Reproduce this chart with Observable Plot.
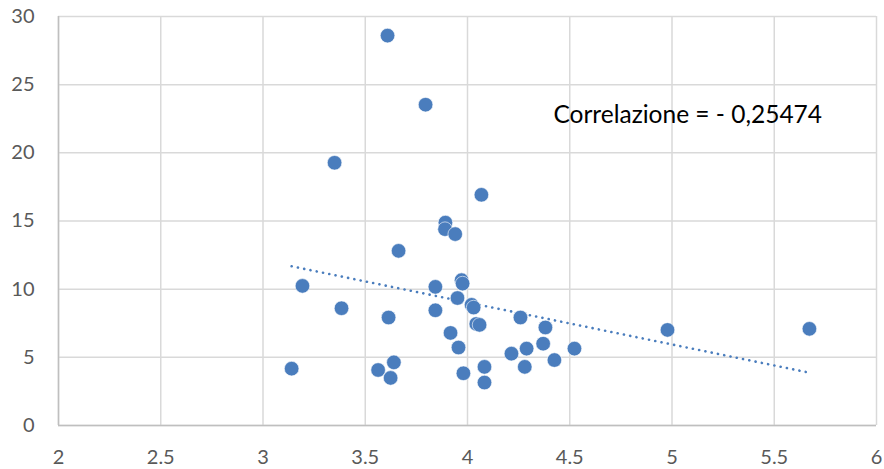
<!DOCTYPE html>
<html>
<head>
<meta charset="utf-8">
<script src="https://cdn.jsdelivr.net/npm/d3@7"></script>
<script src="https://cdn.jsdelivr.net/npm/@observablehq/plot@0.6"></script>
<style>
  html, body { margin: 0; padding: 0; background: #fff; }
  #chart svg { display: block; }
  #chart g[aria-label="x-axis tick label"], #chart g[aria-label="y-axis tick label"] { font-size: 20px; }
</style>
</head>
<body>
<div id="chart"></div>
<script>
const xValues = [3.609, 3.795, 3.35, 4.068, 3.892, 3.89, 3.94, 3.663, 3.971, 3.976, 3.193, 3.843, 3.951, 4.02, 4.03, 3.384, 3.843, 3.614, 4.259, 4.043, 4.059, 4.381, 4.978, 5.672, 3.917, 3.956, 4.289, 4.523, 4.37, 4.215, 4.425, 3.64, 3.14, 3.563, 4.083, 4.28, 3.98, 3.624, 4.083];
const yValues = [28.6, 23.53, 19.27, 16.92, 14.88, 14.4, 14.04, 12.81, 10.66, 10.41, 10.24, 10.17, 9.35, 8.85, 8.65, 8.6, 8.45, 7.92, 7.92, 7.45, 7.38, 7.19, 7.01, 7.09, 6.79, 5.72, 5.64, 5.64, 6.0, 5.27, 4.8, 4.63, 4.17, 4.07, 4.30, 4.30, 3.83, 3.49, 3.15];
const xTicks = [2, 2.5, 3, 3.5, 4, 4.5, 5, 5.5, 6];
const yTicks = [0, 5, 10, 15, 20, 25, 30];
const annotationText = ["Correlazione = - 0,25474"];
const annotationX = [4.42];
const annotationY = [22.75];

const points = xValues.map((x, i) => ({x, y: yValues[i]}));
const notes = annotationText.map((t, i) => ({t, x: annotationX[i], y: annotationY[i]}));

const fontFamily = "Lato, 'Open Sans', sans-serif";

const chart = Plot.plot({
  width: 884,
  height: 469,
  marginLeft: 58,
  marginRight: 8,
  marginTop: 16,
  marginBottom: 44,
  style: {fontFamily, fontSize: "20px", color: "#595959", background: "#fff"},
  x: {domain: [2, 6], label: null},
  y: {domain: [0, 30], label: null},
  marks: [
    Plot.gridX(xTicks, {stroke: "#d9d9d9", strokeOpacity: 1, strokeWidth: 1.5}),
    Plot.gridY(yTicks, {stroke: "#d9d9d9", strokeOpacity: 1, strokeWidth: 1.5}),
    Plot.ruleY([0], {stroke: "#bfbfbf", strokeWidth: 1.5}),
    Plot.ruleX([2], {stroke: "#bfbfbf", strokeWidth: 1.5}),
    Plot.axisX({ticks: xTicks, tickFormat: d3.format("~g"), tickSize: 0, tickPadding: 22, dy: 2, fill: "#595959", fontSize: 20, label: null}),
    Plot.axisY({ticks: yTicks, tickFormat: d3.format("~g"), tickSize: 0, tickPadding: 14, dx: -10, fill: "#595959", fontSize: 20, label: null}),
    Plot.linearRegressionY(points, {x: "x", y: "y", ci: 0, stroke: "#4a7dbd", strokeWidth: 2.6, strokeDasharray: "0.1,6.3", strokeLinecap: "round"}),
    Plot.dot(points, {x: "x", y: "y", r: 7.3, fill: "#4a7dbd", stroke: "#ffffff", strokeWidth: 0.6}),
    Plot.text(notes, {x: "x", y: "y", text: "t", textAnchor: "start", fontSize: 24.5, fill: "#000000"})
  ]
});
document.getElementById("chart").appendChild(chart);
</script>
</body>
</html>
